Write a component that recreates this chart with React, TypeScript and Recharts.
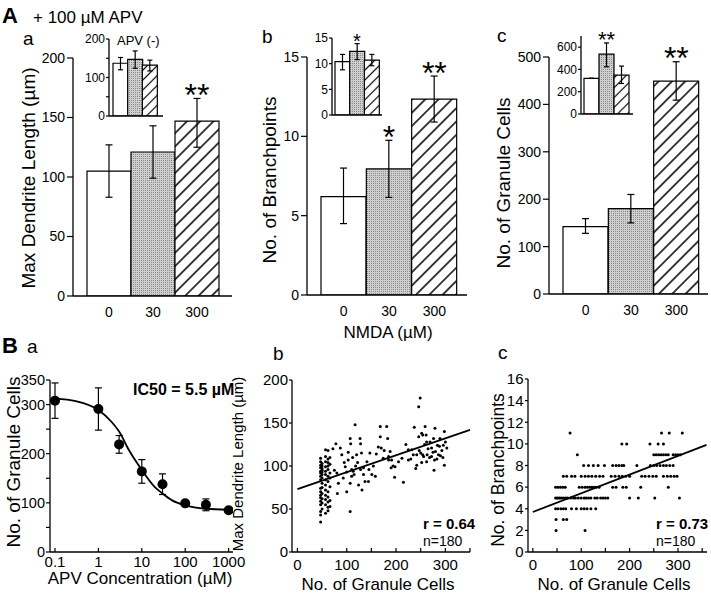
import React from "react";
import {
  BarChart,
  Bar,
  Cell,
  XAxis,
  YAxis,
  ErrorBar,
  ReferenceDot,
  ComposedChart,
  Line,
  Scatter,
  ScatterChart,
  ReferenceLine,
} from "recharts";

const FONT = '"Liberation Sans", Arial, Helvetica, sans-serif';

// ---- A: NMDA dose (+100 µM APV) ----
const doses = ["0", "30", "300"];

const dendriteMean = [105, 121, 147];
const dendriteErr = [[22, 22], [22, 22], [22, 19]];
const dendriteSig = ["", "", "**"];
const dendriteInsetMean = [137, 147, 132];
const dendriteInsetErr = [[17, 15], [23, 22], [15, 13]];

const branchMean = [6.2, 7.95, 12.35];
const branchErr = [[1.7, 1.8], [1.8, 1.8], [1.45, 1.45]];
const branchSig = ["", "*", "**"];
const branchInsetMean = [10.4, 12.4, 10.7];
const branchInsetErr = [[1.6, 1.4], [1.6, 1.5], [1.1, 1.1]];
const branchInsetSig = ["", "*", ""];

const granuleMean = [142, 180, 449];
const granuleErr = [[14, 17], [30, 30], [40, 41]];
const granuleSig = ["", "", "**"];
const granuleInsetMean = [320, 537, 349];
const granuleInsetErr = [[0, 0], [113, 101], [75, 81]];
const granuleInsetSig = ["", "**", ""];

// ---- B a: APV dose response ----
const apvConc = [0.1, 1, 3, 10, 30, 100, 300, 1000];
const apvCells = [308, 291, 219, 164, 138, 99, 96, 85];
const apvErr = [36, 43, 18, 24, 21, 0, 12, 0];
const fitConc = [0.1, 0.3, 1, 2, 3, 5, 10, 20, 30, 50, 100, 300, 1000];
const fitCells = [312, 307, 289, 265, 245, 208, 167, 132, 119, 105, 95, 88, 86];
const apvTicks = [0.1, 1, 10, 100, 1000];

// ---- B b: dendrite length vs granule cells ----
const dendritePairs: [number, number][] = [
  [47, 35], [47, 43], [47, 47], [47, 55], [47, 59], [47, 63], [47, 66], [47, 70], [47, 74],
  [47, 84], [47, 88], [47, 92], [47, 94], [47, 98], [47, 101], [47, 105], [47, 109],
  [50, 50], [50, 57], [50, 62], [50, 68], [50, 75], [50, 80], [50, 86], [50, 90], [50, 93],
  [50, 95], [50, 97], [50, 100], [50, 103],
  [57, 45], [57, 55], [57, 61], [57, 66], [57, 72], [57, 78], [57, 84], [57, 90], [57, 94],
  [57, 99], [57, 105], [57, 111], [57, 119],
  [62, 48], [62, 52], [62, 58], [62, 64], [62, 70], [62, 82], [62, 88], [62, 96], [62, 100],
  [62, 104], [62, 108], [62, 118],
  [66, 53], [66, 60], [66, 76], [66, 86], [66, 92], [66, 102], [66, 110],
  [72, 120], [75, 95], [78, 126], [80, 92], [81, 68], [83, 80], [87, 121], [90, 113], [93, 86],
  [97, 99], [100, 70], [103, 107], [103, 116], [107, 80], [107, 47], [107, 132], [108, 126],
  [110, 96], [113, 94], [115, 90], [117, 148], [118, 100], [120, 113], [122, 104], [124, 78],
  [127, 132], [128, 126], [130, 115], [131, 72], [134, 98], [134, 90], [137, 82], [141, 105],
  [144, 82], [147, 115], [151, 90], [154, 100], [158, 88], [164, 122], [168, 146], [168, 134],
  [170, 121], [174, 109], [176, 118], [181, 146], [183, 132], [185, 107], [185, 111], [188, 117],
  [191, 107], [194, 100], [198, 99], [197, 87], [212, 109], [215, 81], [220, 125], [225, 119],
  [225, 107], [232, 119], [235, 113], [237, 145], [242, 113], [242, 101], [240, 97], [246, 169],
  [249, 179], [246, 134], [250, 115], [252, 138], [252, 104], [254, 136], [254, 113], [256, 111],
  [259, 146], [261, 136], [262, 105], [262, 128], [263, 113], [269, 128], [272, 121], [272, 111],
  [276, 132], [277, 95], [278, 107], [279, 144], [280, 117], [284, 124], [286, 113], [288, 123],
  [289, 132], [293, 118], [296, 124], [298, 140], [298, 101], [303, 121], [300, 128], [265, 120],
  [268, 110], [283, 108], [290, 112], [110, 88], [95, 104], [112, 110], [128, 96], [100, 93],
  [145, 96], [160, 114], [190, 98], [205, 105], [230, 108], [247, 118], [258, 125], [275, 116],
  [295, 110],
];
const dendriteFitX = [0, 350];
const dendriteFitY = [73, 142];

// ---- B c: branchpoints vs granule cells ----
const branchRows = [11, 10, 9, 8, 7, 6, 5, 4, 3, 2];
const branchCellsByRow = [
  [77, 266, 282, 309],
  [184, 194, 242, 259, 270],
  [92, 250, 255, 260, 265, 270, 275, 280, 290, 295, 300, 305],
  [105, 115, 125, 135, 148, 165, 172, 178, 184, 188, 215, 243, 250, 256, 263, 270, 276, 283, 290],
  [63, 70, 80, 87, 100, 108, 115, 122, 130, 138, 145, 162, 170, 178, 185, 192, 200, 225, 232,
    240, 248, 255, 270, 278, 285, 292, 298],
  [47, 52, 57, 62, 67, 96, 102, 108, 113, 118, 122, 126, 131, 137, 165, 172, 186, 193, 223, 280],
  [47, 50, 53, 56, 60, 64, 68, 72, 78, 84, 88, 94, 100, 106, 110, 115, 120, 128, 133, 140, 145,
    150, 155, 200, 218, 252, 303],
  [47, 52, 58, 63, 68, 80, 90, 100, 106, 112, 120, 130],
  [48, 63, 70],
  [48, 108],
];
const branchFitX = [0, 359];
const branchFitY = [3.7, 9.9];

const axisLine = { stroke: "#000", strokeWidth: 1.3 };
const tickLine = { stroke: "#000", strokeWidth: 1.2 };
const tickStyle = (fs: number) => ({ fill: "#000", fontSize: fs, fontFamily: FONT });

type Box = [number, number, number, number];

function frame(box: Box, yw: number, xh: number, mt: number, mr: number) {
  const [x0, y0, x1, y1] = box;
  return {
    style: { position: "absolute" as const, left: x0 - yw, top: y0 - mt },
    width: yw + (x1 - x0) + mr,
    height: mt + (y1 - y0) + xh,
    margin: { top: mt, right: mr, bottom: 0, left: 0 },
  };
}

const starLabel = (text: string, fs: number, off: number) => (p: any) => {
  const vb = p.viewBox || {};
  return (
    <text
      x={(vb.x || 0) + (vb.width || 0) / 2}
      y={(vb.y || 0) + off}
      textAnchor="middle"
      fontSize={fs}
      fontFamily={FONT}
      fill="#000"
    >
      {text}
    </text>
  );
};

type BarPanelProps = {
  box: Box;
  yw: number;
  xh: number;
  mt: number;
  mr: number;
  means: number[];
  errs: number[][];
  sig: string[];
  yDomain: [number, number];
  yTicks: number[];
  yLabels: number[];
  pad: [number, number];
  tickFs: number;
  tickSize: number;
  tickMargin: number;
  showX: boolean;
  hatch: string;
  capW: number;
  starFs: number;
  starOff: number;
};

function BarPanel(props: BarPanelProps) {
  const f = frame(props.box, props.yw, props.xh, props.mt, props.mr);
  const data = doses.map((d, i) => ({
    dose: d,
    mean: props.means[i],
    err: props.errs[i],
  }));
  const fills = ["#fff", "url(#stipple)", `url(#${props.hatch})`];

  return (
    <div style={f.style}>
      <BarChart
        width={f.width}
        height={f.height}
        data={data}
        margin={f.margin}
        barCategoryGap={0}
        barGap={0}
      >
        <XAxis
          dataKey="dose"
          type="category"
          height={props.xh}
          padding={{ left: props.pad[0], right: props.pad[1] }}
          axisLine={axisLine}
          tickLine={false}
          tick={props.showX ? tickStyle(props.tickFs) : false}
          tickSize={6}
          tickMargin={5}
          interval={0}
        />
        <YAxis
          type="number"
          width={props.yw}
          domain={props.yDomain}
          ticks={props.yTicks}
          tickFormatter={(v: number) => (props.yLabels.includes(v) ? String(v) : "")}
          axisLine={axisLine}
          tickLine={tickLine}
          tick={tickStyle(props.tickFs)}
          tickSize={props.tickSize}
          tickMargin={props.tickMargin}
          interval={0}
          allowDataOverflow
        />
        <Bar dataKey="mean" isAnimationActive={false} stroke="#000" strokeWidth={1.2}>
          {data.map((_, i) => (
            <Cell key={`cell-${i}`} fill={fills[i]} stroke="#000" strokeWidth={1.2} />
          ))}
          <ErrorBar
            dataKey="err"
            width={props.capW}
            stroke="#000"
            strokeWidth={1.2}
            direction="y"
          />
        </Bar>
        {props.sig.map((s, i) =>
          s ? (
            <ReferenceDot
              key={`sig-${i}`}
              x={doses[i]}
              y={props.means[i] + props.errs[i][1]}
              r={0}
              ifOverflow="visible"
              label={starLabel(s, props.starFs, props.starOff)}
            />
          ) : null
        )}
      </BarChart>
    </div>
  );
}

const bigDot = (p: any) => <circle cx={p.cx} cy={p.cy} r={5} fill="#000" />;
const smallDot = (p: any) => <circle cx={p.cx} cy={p.cy} r={1.5} fill="#000" />;

function DoseResponse() {
  const f = frame([50, 380, 233, 552], 45, 30, 10, 20);
  const pts = apvConc.map((x, i) => ({ x, y: apvCells[i], err: apvErr[i] }));
  const fit = fitConc.map((x, i) => ({ x, y: fitCells[i] }));
  return (
    <div style={f.style}>
      <ComposedChart width={f.width} height={f.height} margin={f.margin}>
        <XAxis
          type="number"
          dataKey="x"
          scale="log"
          domain={[0.0767, 1262]}
          ticks={apvTicks}
          tickFormatter={(v: number) => String(v)}
          height={30}
          axisLine={axisLine}
          tickLine={tickLine}
          tick={tickStyle(15)}
          tickSize={-4}
          tickMargin={8}
          interval={0}
          allowDataOverflow
        />
        <YAxis
          type="number"
          width={45}
          domain={[0, 350]}
          ticks={[0, 50, 100, 150, 200, 250, 300, 350]}
          tickFormatter={(v: number) => (v % 100 === 0 || v === 350 ? String(v) : "")}
          axisLine={axisLine}
          tickLine={tickLine}
          tick={tickStyle(14.5)}
          tickSize={4}
          tickMargin={1}
          interval={0}
          allowDataOverflow
        />
        <Line
          data={fit}
          dataKey="y"
          type="monotone"
          dot={false}
          stroke="#000"
          strokeWidth={1.8}
          isAnimationActive={false}
        />
        <Scatter data={pts} dataKey="y" shape={bigDot} isAnimationActive={false}>
          <ErrorBar dataKey="err" direction="y" width={3.5} stroke="#000" strokeWidth={1.2} />
        </Scatter>
      </ComposedChart>
    </div>
  );
}

type CorrProps = {
  box: Box;
  yw: number;
  pts: { x: number; y: number }[];
  xDomain: [number, number];
  yDomain: [number, number];
  yTicks: number[];
  fitX: number[];
  fitY: number[];
  tickMargin: number;
};

function Correlation(props: CorrProps) {
  const f = frame(props.box, props.yw, 30, 10, 4);
  return (
    <div style={f.style}>
      <ScatterChart width={f.width} height={f.height} margin={f.margin}>
        <XAxis
          type="number"
          dataKey="x"
          domain={props.xDomain}
          ticks={[0, 50, 100, 150, 200, 250, 300, 350]}
          tickFormatter={(v: number) => (v % 100 === 0 ? String(v) : "")}
          height={30}
          axisLine={axisLine}
          tickLine={tickLine}
          tick={tickStyle(15)}
          tickSize={-4}
          tickMargin={11}
          interval={0}
          allowDataOverflow
        />
        <YAxis
          type="number"
          dataKey="y"
          width={props.yw}
          domain={props.yDomain}
          ticks={props.yTicks}
          axisLine={axisLine}
          tickLine={tickLine}
          tick={tickStyle(15)}
          tickSize={3}
          tickMargin={props.tickMargin}
          interval={0}
          allowDataOverflow
        />
        <Scatter data={props.pts} shape={smallDot} isAnimationActive={false} />
        <ReferenceLine
          segment={[
            { x: props.fitX[0], y: props.fitY[0] },
            { x: props.fitX[1], y: props.fitY[1] },
          ]}
          stroke="#000"
          strokeWidth={1.8}
          ifOverflow="visible"
        />
      </ScatterChart>
    </div>
  );
}

function VText({ x, y, fs, children }: { x: number; y: number; fs: number; children: string }) {
  return (
    <text
      transform={`translate(${x},${y}) rotate(-90)`}
      textAnchor="middle"
      fontSize={fs}
      fill="#000"
    >
      {children}
    </text>
  );
}

export default function App() {
  const dendritePts = dendritePairs.map(([x, y]) => ({ x, y }));
  const branchPts = branchRows.flatMap((y, i) => branchCellsByRow[i].map((x) => ({ x, y })));

  const mainCommon = { xh: 40, mt: 22, tickFs: 14, tickSize: 6, tickMargin: 2, showX: true, hatch: "hatchMain", capW: 3.5, starFs: 32, starOff: 7.5 };
  const insetCommon = { yw: 30, xh: 9, mt: 9, mr: 3, tickFs: 12, tickSize: 3, tickMargin: 1, showX: false, hatch: "hatchInset", capW: 2.5 };

  return (
    <div
      style={{
        position: "absolute",
        left: 0,
        top: 0,
        width: 711,
        height: 594,
        background: "#fff",
        fontFamily: FONT,
        overflow: "hidden",
      }}
    >
      <svg width={0} height={0} style={{ position: "absolute" }}>
        <defs>
          <pattern id="stipple" width="2" height="2" patternUnits="userSpaceOnUse">
            <rect width="2" height="2" fill="#cfcfcf" />
            <rect width="1" height="1" fill="#8a8a8a" />
          </pattern>
          <pattern id="hatchMain" width="9.4" height="9.4" patternUnits="userSpaceOnUse" patternTransform="rotate(45)">
            <rect width="9.4" height="9.4" fill="#fff" />
            <line x1="4.7" y1="0" x2="4.7" y2="9.4" stroke="#000" strokeWidth="1.5" />
          </pattern>
          <pattern id="hatchInset" width="7" height="7" patternUnits="userSpaceOnUse" patternTransform="rotate(45)">
            <rect width="7" height="7" fill="#fff" />
            <line x1="3.5" y1="0" x2="3.5" y2="7" stroke="#000" strokeWidth="1.2" />
          </pattern>
        </defs>
      </svg>

      {/* A a */}
      <BarPanel
        {...mainCommon}
        box={[73, 58, 232, 296]}
        yw={60}
        mr={6}
        means={dendriteMean}
        errs={dendriteErr}
        sig={dendriteSig}
        yDomain={[0, 200]}
        yTicks={[0, 50, 100, 150, 200]}
        yLabels={[0, 50, 100, 150, 200]}
        pad={[14, 13]}
      />
      <BarPanel
        {...insetCommon}
        box={[109, 39, 163, 116]}
        means={dendriteInsetMean}
        errs={dendriteInsetErr}
        sig={["", "", ""]}
        yDomain={[0, 200]}
        yTicks={[0, 50, 100, 150, 200]}
        yLabels={[0, 100, 200]}
        pad={[4, 6]}
        starFs={20}
        starOff={4}
      />

      {/* A b */}
      <BarPanel
        {...mainCommon}
        box={[307, 57, 467, 295]}
        yw={50}
        mr={6}
        means={branchMean}
        errs={branchErr}
        sig={branchSig}
        yDomain={[0, 15]}
        yTicks={[0, 5, 10, 15]}
        yLabels={[0, 5, 10, 15]}
        pad={[14, 10]}
      />
      <BarPanel
        {...insetCommon}
        box={[332, 38, 382, 115]}
        means={branchInsetMean}
        errs={branchInsetErr}
        sig={branchInsetSig}
        yDomain={[0, 15]}
        yTicks={[0, 5, 10, 15]}
        yLabels={[0, 5, 10, 15]}
        pad={[3, 3]}
        starFs={20}
        starOff={4}
      />

      {/* A c */}
      <BarPanel
        {...mainCommon}
        box={[549, 57, 708, 294]}
        yw={50}
        mr={3}
        means={granuleMean}
        errs={granuleErr}
        sig={granuleSig}
        yDomain={[0, 500]}
        yTicks={[0, 100, 200, 300, 400, 500]}
        yLabels={[0, 100, 200, 300, 400, 500]}
        pad={[14, 9]}
      />
      <BarPanel
        {...insetCommon}
        box={[581, 36, 633, 114]}
        means={granuleInsetMean}
        errs={granuleInsetErr}
        sig={granuleInsetSig}
        yDomain={[0, 700]}
        yTicks={[0, 200, 400, 600]}
        yLabels={[0, 200, 400, 600]}
        pad={[3, 4]}
        starFs={22}
        starOff={4}
      />

      {/* B */}
      <DoseResponse />
      <Correlation
        box={[292, 380, 470, 552]}
        yw={45}
        pts={dendritePts}
        xDomain={[-11, 350]}
        yDomain={[0, 200]}
        yTicks={[0, 50, 100, 150, 200]}
        fitX={dendriteFitX}
        fitY={dendriteFitY}
        tickMargin={1}
      />
      <Correlation
        box={[528, 379, 707, 552]}
        yw={40}
        pts={branchPts}
        xDomain={[-10, 360]}
        yDomain={[0, 16]}
        yTicks={[0, 2, 4, 6, 8, 10, 12, 14, 16]}
        fitX={branchFitX}
        fitY={branchFitY}
        tickMargin={1.5}
      />

      <svg
        width={711}
        height={594}
        style={{ position: "absolute", left: 0, top: 0, pointerEvents: "none" }}
        fontFamily={FONT}
      >
        <text x={2} y={23} fontSize={22} fontWeight="bold">A</text>
        <text x={33} y={23} fontSize={17}>+ 100 µM APV</text>
        <text x={23} y={45} fontSize={19}>a</text>
        <text x={117} y={45} fontSize={13}>APV (-)</text>
        <text x={262} y={43} fontSize={19}>b</text>
        <text x={497} y={42} fontSize={19}>c</text>
        <VText x={35} y={178} fs={19}>Max Dendrite Length (µm)</VText>
        <VText x={276} y={180} fs={19}>No. of Branchpoints</VText>
        <VText x={510} y={183} fs={19}>No. of Granule Cells</VText>
        <text x={388} y={338} fontSize={17} textAnchor="middle">NMDA (µM)</text>

        <text x={2} y={353} fontSize={22} fontWeight="bold">B</text>
        <text x={27} y={353} fontSize={19}>a</text>
        <text x={273} y={360} fontSize={19}>b</text>
        <text x={498} y={359} fontSize={19}>c</text>
        <text x={133} y={395} fontSize={16} fontWeight="bold">IC50 = 5.5 µM</text>
        <VText x={20} y={462} fs={19}>No. of Granule Cells</VText>
        <text x={140} y={584} fontSize={17} textAnchor="middle">APV Concentration (µM)</text>

        <VText x={243} y={464} fs={15}>Max Dendrite Length (µm)</VText>
        <text x={378} y={590} fontSize={17} textAnchor="middle">No. of Granule Cells</text>
        <text x={423} y={529} fontSize={15} fontWeight="bold">r = 0.64</text>
        <text x={423} y={546} fontSize={14}>n=180</text>

        <VText x={504} y={470} fs={17.5}>No. of Branchpoints</VText>
        <text x={614} y={590} fontSize={17} textAnchor="middle">No. of Granule Cells</text>
        <text x={656} y={529} fontSize={15} fontWeight="bold">r = 0.73</text>
        <text x={656} y={546} fontSize={14}>n=180</text>
      </svg>
    </div>
  );
}
